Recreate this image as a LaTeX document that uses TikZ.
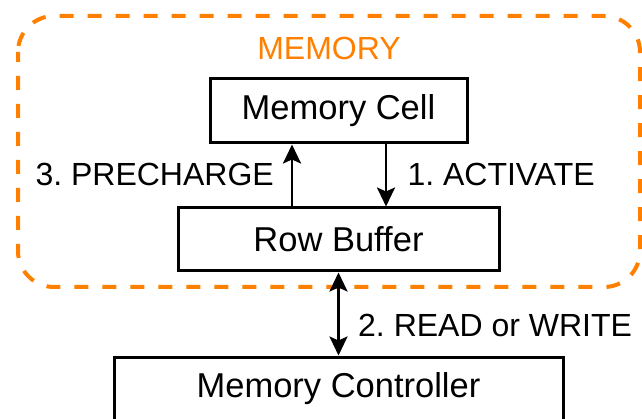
\documentclass[tikz,border=0pt]{standalone}
\usepackage{fontspec}
\setmainfont{Liberation Sans}
\usetikzlibrary{arrows.meta}
\definecolor{memorange}{RGB}{255,128,0}
\frenchspacing
\tikzset{
  tip/.tip={Stealth[length=19pt,width=18pt,inset=4pt]},
  blockbox/.style={draw, line width=3pt, rectangle, inner sep=0pt, font=\fontsize{34.5}{40}\selectfont},
  lbl/.style={inner sep=0pt, font=\fontsize{32}{38}\selectfont},
  arr/.style={line width=2.7pt, -tip},
  darr/.style={line width=2.7pt, tip-tip},
  membox/.style={draw=memorange, line width=4pt, rounded corners=36pt, dash pattern=on 14pt off 14pt, dash phase=4pt}
}
\begin{document}
\begin{tikzpicture}[x=1pt,y=-1pt]
\useasboundingbox (0,0) rectangle (642,419);
% dashed memory region
\draw[membox] (18,16) rectangle (640,287);
\node[lbl, text=memorange, anchor=base] (memlbl) at (329,60) {MEMORY};
% boxes
\node[blockbox, minimum width=257pt, minimum height=64pt] (mc) at (338.5,111) {Memory Cell};
\node[blockbox, minimum width=321pt, minimum height=63pt] (rb) at (338.5,239.5) {Row Buffer};
\node[blockbox, minimum width=449pt, minimum height=64pt] (ctl) at (338.5,389) {Memory Controller};
% arrows
\draw[arr] ([xshift=-46.5pt]rb.north) -- ([xshift=-46.5pt]mc.south);
\draw[arr] ([xshift=47.5pt]mc.south) -- ([xshift=47.5pt]rb.north);
\draw[darr] (rb.south) -- (ctl.north);
% labels
\node[lbl, anchor=base east] (pre) at (274,186) {3. PRECHARGE};
\node[lbl, anchor=base east] (act) at (595,186) {1. ACTIVATE};
\node[lbl, anchor=base west] (rw) at (358,337) {2. READ or WRITE};
\end{tikzpicture}
\end{document}
